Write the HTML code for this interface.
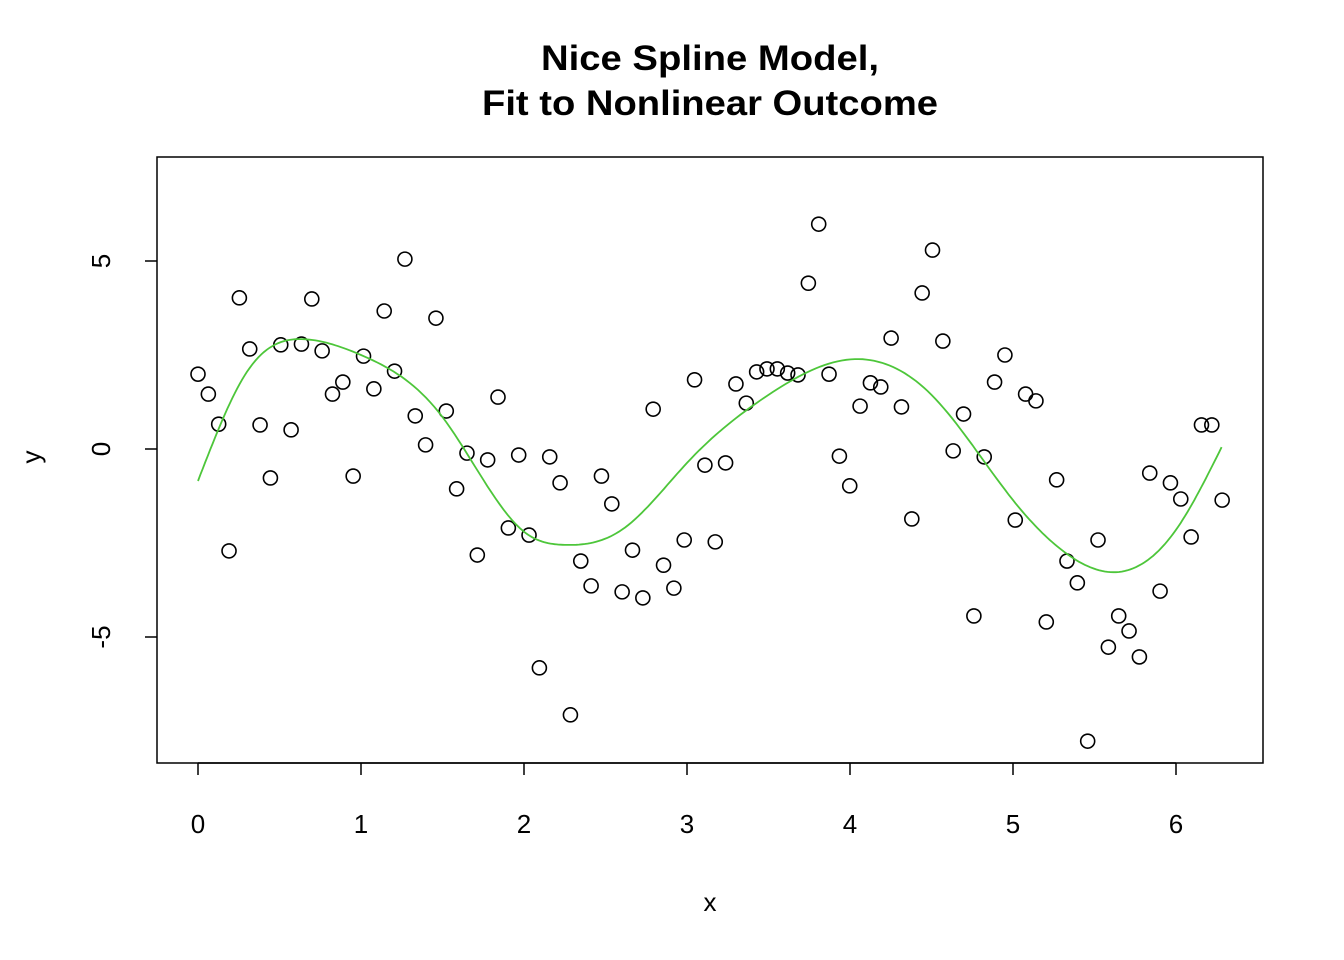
<!DOCTYPE html>
<html><head><meta charset="utf-8"><style>
body{margin:0;background:#fff}
svg{display:block;font-family:"Liberation Sans",Arial,sans-serif}
</style></head><body>
<svg id="chart" width="1344" height="960">
<rect width="1344" height="960" fill="#fff"/>
<text x="710" y="70" text-anchor="middle" font-size="35" font-weight="bold" textLength="338" lengthAdjust="spacingAndGlyphs">Nice Spline Model,</text>
<text x="710" y="115" text-anchor="middle" font-size="35" font-weight="bold" textLength="456" lengthAdjust="spacingAndGlyphs">Fit to Nonlinear Outcome</text>
<rect x="157" y="157" width="1106" height="606" fill="none" stroke="#000" stroke-width="1.5"/>
<g id="xaxis"></g>
<g id="yaxis"></g>
<text x="710" y="911" text-anchor="middle" font-size="26">x</text>
<text transform="translate(40,457) rotate(-90)" text-anchor="middle" font-size="26">y</text>
<g id="points"></g>
<path id="fit" fill="none" stroke="#4dc63a" stroke-width="1.8"/>
</svg>
<script>
const yValues=[1.99,1.46,0.66,-2.71,4.02,2.66,0.64,-0.77,2.77,0.51,
2.79,3.99,2.61,1.46,1.78,-0.72,2.47,1.60,3.67,2.07,
5.05,0.88,0.11,3.48,1.01,-1.06,-0.11,-2.82,-0.29,1.38,
-2.10,-0.16,-2.29,-5.82,-0.21,-0.90,-7.07,-2.98,-3.64,-0.72,
-1.46,-3.80,-2.69,-3.96,1.06,-3.09,-3.70,-2.42,1.84,-0.43,
-2.47,-0.37,1.73,1.22,2.05,2.13,2.13,2.02,1.97,4.41,
5.98,1.99,-0.19,-0.98,1.14,1.76,1.65,2.95,1.12,-1.86,
4.15,5.29,2.87,-0.05,0.93,-4.44,-0.21,1.78,2.50,-1.89,
1.46,1.28,-4.60,-0.82,-2.98,-3.56,-7.77,-2.42,-5.27,-4.44,
-4.84,-5.53,-0.64,-3.78,-0.90,-1.33,-2.34,0.64,0.64,-1.36];
const xMax=6.2832;
const fitX=[0,0.3,0.65,1.0,1.5,2.0,2.25,2.6,3.0,3.5,4.03,4.5,5.0,5.3,5.65,6.0,6.28];
const fitY=[-0.85,2.05,2.92,2.5,0.85,-2.2,-2.55,-2.15,-0.37,1.44,2.39,1.44,-1.36,-2.69,-3.27,-2.15,0.05];
const xTicks=[0,1,2,3,4,5,6];
const yTicks=[-5,0,5];
const NS="http://www.w3.org/2000/svg";
const sx=v=>198+v*163;
const sy=v=>449-v*37.6;
function mk(tag,attrs,parent){const e=document.createElementNS(NS,tag);for(const k in attrs)e.setAttribute(k,attrs[k]);parent.appendChild(e);return e;}
const xa=document.getElementById('xaxis'),ya=document.getElementById('yaxis');
mk('line',{x1:sx(0),x2:sx(6),y1:763,y2:763,stroke:'#000','stroke-width':1.5},xa);
xTicks.forEach(t=>{
  const l=mk('line',{x1:sx(t),x2:sx(t),y1:763,y2:775,stroke:'#000','stroke-width':1.5},xa);
  
  
  const tx=mk('text',{x:sx(t),y:833,'text-anchor':'middle','font-size':26},xa);tx.textContent=t;
  
  
});
yTicks.forEach(t=>{
  const l=mk('line',{x1:145,x2:157,y1:sy(t),y2:sy(t),stroke:'#000','stroke-width':1.5},ya);
  
  
  const tx=mk('text',{transform:`translate(110,${sy(t)}) rotate(-90)`,'text-anchor':'middle','font-size':26},ya);tx.textContent=t;
  
  
});
const pg=document.getElementById('points');
yValues.forEach((v,i)=>{
  const x=i*xMax/(yValues.length-1);
  const c=mk('circle',{cx:sx(x),cy:sy(v),r:7,fill:'none',stroke:'#000','stroke-width':1.6},pg);
  
  
});
// natural cubic spline through knots
const n=fitX.length;
const h=[],al=[0],l=[1],mu=[0],z=[0],c=new Array(n).fill(0),b=[],dd=[];
for(let i=0;i<n-1;i++)h[i]=fitX[i+1]-fitX[i];
for(let i=1;i<n-1;i++)al[i]=3/h[i]*(fitY[i+1]-fitY[i])-3/h[i-1]*(fitY[i]-fitY[i-1]);
for(let i=1;i<n-1;i++){l[i]=2*(fitX[i+1]-fitX[i-1])-h[i-1]*mu[i-1];mu[i]=h[i]/l[i];z[i]=(al[i]-h[i-1]*z[i-1])/l[i];}
l[n-1]=1;z[n-1]=0;c[n-1]=0;
for(let j=n-2;j>=0;j--){c[j]=z[j]-mu[j]*c[j+1];b[j]=(fitY[j+1]-fitY[j])/h[j]-h[j]*(c[j+1]+2*c[j])/3;dd[j]=(c[j+1]-c[j])/(3*h[j]);}
let d='';
for(let i=0;i<n-1;i++){
  for(let s=0;s<=20;s++){
    const t=s/20*h[i];
    const X=fitX[i]+t;
    const Y=fitY[i]+b[i]*t+c[i]*t*t+dd[i]*t*t*t;
    d+=(d?'L':'M')+sx(X).toFixed(1)+','+sy(Y).toFixed(1);
  }
}
document.getElementById('fit').setAttribute('d',d);
</script>
</body></html>
